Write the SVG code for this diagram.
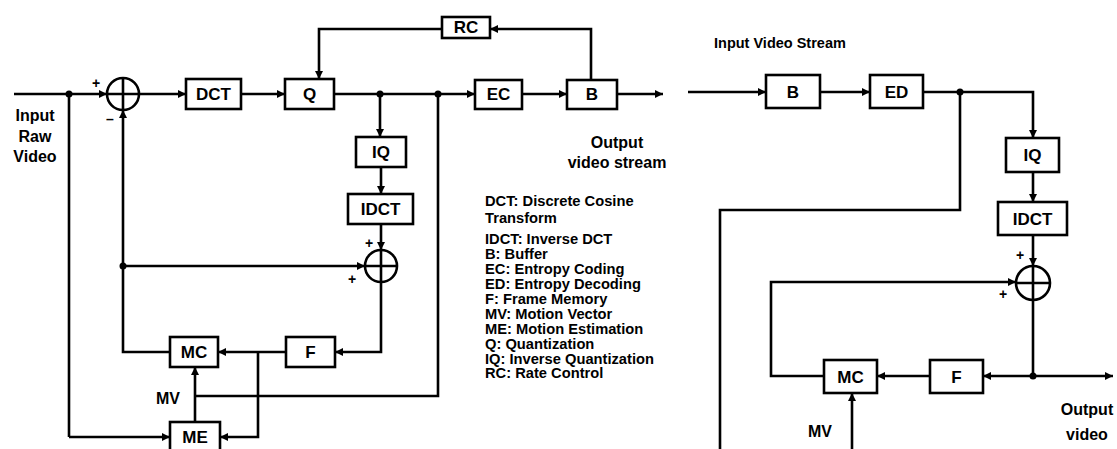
<svg xmlns="http://www.w3.org/2000/svg" width="1117" height="449" viewBox="0 0 1117 449">
<style>
.box{fill:#fff;stroke:#000;stroke-width:2.6}
.ln{fill:none;stroke:#000;stroke-width:2.6}
.ar{fill:none;stroke:#000;stroke-width:2.6;marker-end:url(#ah)}
.lbl{font-family:"Liberation Sans",Arial,sans-serif;font-weight:bold;font-size:17px;text-anchor:middle}
.txt{font-family:"Liberation Sans",Arial,sans-serif;font-weight:bold;font-size:16px;text-anchor:middle}
.leg{font-family:"Liberation Sans",Arial,sans-serif;font-weight:bold;font-size:14.7px}
.sg{font-family:"Liberation Sans",Arial,sans-serif;font-weight:bold;font-size:14px;text-anchor:middle}
.dot{fill:#000}
</style>
<defs>
<marker id="ah" markerUnits="userSpaceOnUse" markerWidth="9" markerHeight="8" refX="8" refY="4" orient="auto">
<path d="M0,0 L8,4 L0,8 z" fill="#000"/>
</marker>
</defs>
<rect width="1117" height="449" fill="#fff"/>

<g id="connectors">
<!-- left encoder -->
<path class="ar" d="M14,94 H107"/>
<path class="ln" d="M69,94 V437"/>
<path class="ar" d="M69,437 H170"/>
<path class="ar" d="M139,94 H186"/>
<path class="ar" d="M241,94 H285"/>
<path class="ar" d="M334,94 H475"/>
<path class="ar" d="M380,94 V137"/>
<path class="ar" d="M381,167 V194"/>
<path class="ar" d="M381,224 V250"/>
<path class="ar" d="M381,282 V352 H335"/>
<path class="ar" d="M286,352 H218"/>
<path class="ar" d="M258,352 V437 H220"/>
<path class="ar" d="M170,352 H123 V110"/>
<path class="ar" d="M123,266 H365"/>
<path class="ar" d="M195,422 V367"/>
<path class="ln" d="M195,396 H438 V94"/>
<path class="ar" d="M442,29 H319 V79"/>
<path class="ar" d="M591,80 V29 H490"/>
<path class="ar" d="M522,94 H567"/>
<path class="ar" d="M617,94 H663"/>
<circle class="dot" cx="69" cy="94" r="3.5"/>
<circle class="dot" cx="380" cy="94" r="3.5"/>
<circle class="dot" cx="438" cy="94" r="3.5"/>
<circle class="dot" cx="123" cy="266" r="3.5"/>
<!-- right decoder -->
<path class="ar" d="M688,92 H766"/>
<path class="ar" d="M820,92 H870"/>
<path class="ar" d="M923,92 H1033 V138"/>
<path class="ln" d="M960,92 V210 H720 V449"/>
<path class="ar" d="M1033,172 V202"/>
<path class="ar" d="M1033,235 V266"/>
<path class="ln" d="M1033,300 V376"/>
<path class="ar" d="M1033,376 H983"/>
<path class="ar" d="M1033,376 H1113"/>
<path class="ar" d="M930,376 H877"/>
<path class="ar" d="M824,376 H771 V282 H1016"/>
<path class="ar" d="M852,449 V393"/>
<circle class="dot" cx="960" cy="92" r="3.5"/>
<circle class="dot" cx="1033" cy="376" r="3.5"/>
</g>

<!-- left encoder nodes -->
<g id="sum1">
<circle class="box" cx="123" cy="94" r="16"/>
<path class="ln" d="M107,94 H139 M123,78 V110"/>
<text class="sg" x="96" y="88">+</text>
<text class="sg" x="110" y="124">–</text>
</g>
<g id="dct"><rect class="box" x="186" y="79" width="55" height="30"/><text class="lbl" x="213.5" y="100">DCT</text></g>
<g id="q"><rect class="box" x="285" y="79" width="49" height="30"/><text class="lbl" x="309.5" y="100">Q</text></g>
<g id="rc"><rect class="box" x="442" y="17" width="48" height="21"/><text class="lbl" x="466" y="33">RC</text></g>
<g id="ec"><rect class="box" x="475" y="80" width="47" height="29"/><text class="lbl" x="498.5" y="100">EC</text></g>
<g id="b1"><rect class="box" x="567" y="80" width="50" height="29"/><text class="lbl" x="592" y="100">B</text></g>
<g id="iq1"><rect class="box" x="356" y="137" width="50" height="30"/><text class="lbl" x="381" y="158">IQ</text></g>
<g id="idct1"><rect class="box" x="348" y="194" width="65" height="30"/><text class="lbl" x="380.5" y="215">IDCT</text></g>
<g id="sum2">
<circle class="box" cx="381" cy="266" r="16"/>
<path class="ln" d="M365,266 H397 M381,250 V282"/>
<text class="sg" x="369" y="248">+</text>
<text class="sg" x="352" y="284">+</text>
</g>
<g id="f1"><rect class="box" x="286" y="337" width="49" height="30"/><text class="lbl" x="310.5" y="358">F</text></g>
<g id="mc1"><rect class="box" x="170" y="337" width="48" height="30"/><text class="lbl" x="194" y="358">MC</text></g>
<g id="me"><rect class="box" x="170" y="422" width="50" height="30"/><text class="lbl" x="195" y="443">ME</text></g>

<g id="labels-left">
<text class="txt" x="35" y="121">Input</text>
<text class="txt" x="35" y="142">Raw</text>
<text class="txt" x="35" y="162">Video</text>
<text class="txt" x="617" y="148">Output</text>
<text class="txt" x="617" y="168">video stream</text>
<text class="txt" x="168" y="404">MV</text>
</g>

<g id="legend">
<text class="leg" x="485" y="206">DCT: Discrete Cosine</text>
<text class="leg" x="485" y="223">Transform</text>
<text class="leg" x="485" y="244">IDCT: Inverse DCT</text>
<text class="leg" x="485" y="259">B: Buffer</text>
<text class="leg" x="485" y="274">EC: Entropy Coding</text>
<text class="leg" x="485" y="289">ED: Entropy Decoding</text>
<text class="leg" x="485" y="304">F: Frame Memory</text>
<text class="leg" x="485" y="319">MV: Motion Vector</text>
<text class="leg" x="485" y="334">ME: Motion Estimation</text>
<text class="leg" x="485" y="349">Q: Quantization</text>
<text class="leg" x="485" y="364">IQ: Inverse Quantization</text>
<text class="leg" x="485" y="378">RC: Rate Control</text>
</g>

<!-- right decoder nodes -->
<g id="b2"><rect class="box" x="766" y="75" width="54" height="33"/><text class="lbl" x="793" y="98">B</text></g>
<g id="ed"><rect class="box" x="870" y="75" width="53" height="33"/><text class="lbl" x="896.5" y="98">ED</text></g>
<g id="iq2"><rect class="box" x="1006" y="138" width="53" height="34"/><text class="lbl" x="1032.5" y="161">IQ</text></g>
<g id="idct2"><rect class="box" x="998" y="202" width="69" height="33"/><text class="lbl" x="1032.5" y="225">IDCT</text></g>
<g id="sum3">
<circle class="box" cx="1033" cy="283" r="17"/>
<path class="ln" d="M1016,283 H1050 M1033,266 V300"/>
<text class="sg" x="1020" y="260">+</text>
<text class="sg" x="1003" y="299">+</text>
</g>
<g id="f2"><rect class="box" x="930" y="360" width="53" height="33"/><text class="lbl" x="956.5" y="383">F</text></g>
<g id="mc2"><rect class="box" x="824" y="360" width="53" height="33"/><text class="lbl" x="850.5" y="383">MC</text></g>

<g id="labels-right">
<text class="txt" x="714" y="48" style="text-anchor:start;font-size:14.5px">Input Video Stream</text>
<text class="txt" x="820" y="437">MV</text>
<text class="txt" x="1087" y="415">Output</text>
<text class="txt" x="1087" y="440">video</text>
</g>
</svg>
